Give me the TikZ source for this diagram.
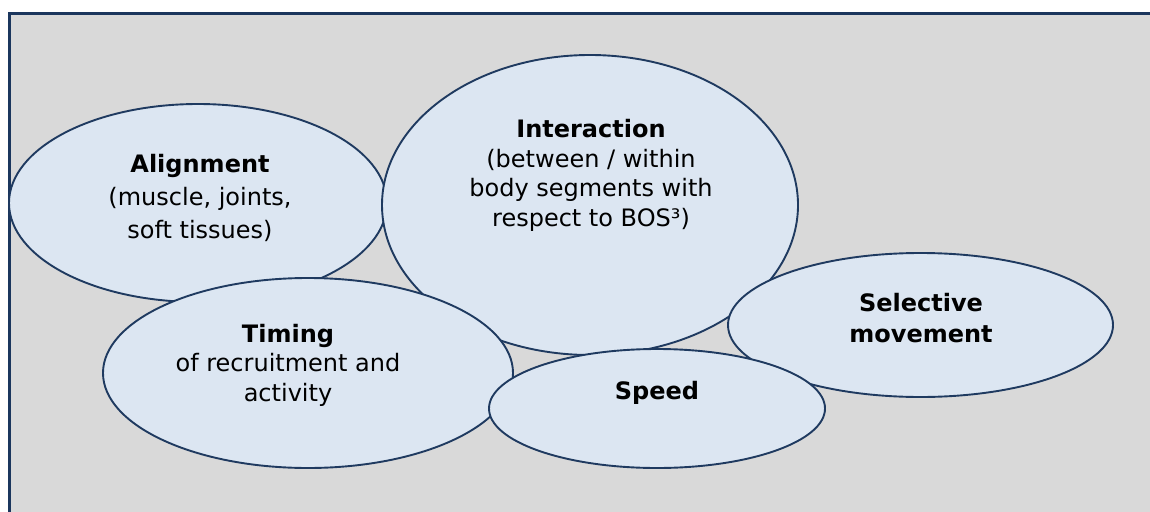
\documentclass[tikz,border=0pt]{standalone}
\usepackage{fontspec}
\setmainfont{DejaVu Sans}
\usetikzlibrary{shapes.geometric}
\definecolor{frameblue}{HTML}{1B365D}
\definecolor{bggray}{HTML}{D9D9D9}
\definecolor{blobfill}{HTML}{DCE6F2}
\definecolor{blobline}{HTML}{1F3A60}
\begin{document}
\begin{tikzpicture}[x=1pt,y=-1pt,
  blob/.style={ellipse, draw=blobline, fill=blobfill, line width=1.9pt, inner sep=0pt, outer sep=0pt},
  lbl/.style={align=center, inner sep=0pt, text=black},
  fs/.style={font=\fontsize{24}{#1}\selectfont}]
\useasboundingbox (0,0) rectangle (1150,511);
\clip (0,0) rectangle (1150,511);
\draw[fill=bggray, draw=frameblue, line width=2.8pt] (9.5,13.5) rectangle (1170,530);
\node[blob, minimum width=378pt, minimum height=198pt] (align) at (198,203) {};
\node[blob, minimum width=416pt, minimum height=300pt] (inter) at (590,205) {};
\node[blob, minimum width=410pt, minimum height=190pt] (timing) at (308,373) {};
\node[blob, minimum width=385pt, minimum height=144pt] (select) at (920.5,325) {};
\node[blob, minimum width=336pt, minimum height=119pt] (speed) at (657,408.5) {};
\node[lbl, fs=33] (alignT) at (200,198) {\textbf{Alignment}\\(muscle, joints,\\soft tissues)};
\node[lbl, fs=29.5] (interT) at (591,175.5) {\textbf{Interaction}\\(between / within\\body segments with\\respect to BOS³)};
\node[lbl, fs=29.5] (timingT) at (288,365) {\textbf{Timing}\\of recruitment and\\activity};
\node[lbl, fs=31] (selectT) at (921,318) {\textbf{Selective}\\\textbf{movement}};
\node[lbl, fs=29.5] (speedT) at (657,393) {\textbf{Speed}};
\end{tikzpicture}
\end{document}
